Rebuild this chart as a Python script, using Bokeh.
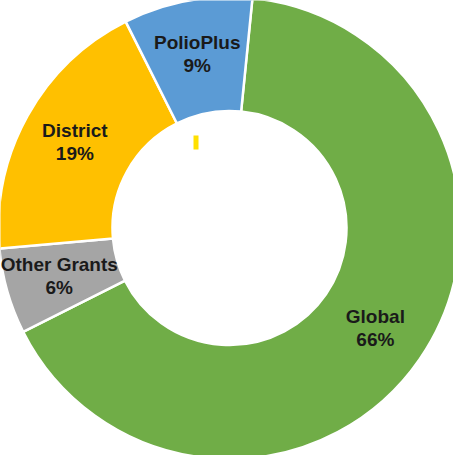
import numpy as np
from bokeh.plotting import figure
from bokeh.models import Range1d, ColumnDataSource
from bokeh.core.properties import value
from bokeh.embed import file_html
from bokeh.resources import INLINE

categories = ["Global", "Other Grants", "District", "PolioPlus"]
shares = [66, 6, 19, 9]
colors = ["#70AD47", "#A5A5A5", "#FFC000", "#5B9BD5"]
start_clockwise_deg = 5.7  # first slice starts just right of 12 o'clock

W, H = 453, 455
cx, cy = 229.0, 227.5
r_out, r_in = 231.0, 117.0

p = figure(width=W, height=H, output_backend="svg", toolbar_location=None,
           x_range=Range1d(0, W), y_range=Range1d(0, H), min_border=0)
p.axis.visible = False
p.grid.visible = False
p.outline_line_color = None
p.background_fill_color = "white"
p.border_fill_color = "white"

total = float(sum(shares))
cum = np.cumsum([0] + shares) / total * 360.0
theta0 = start_clockwise_deg + cum[:-1]  # clockwise from top
theta1 = start_clockwise_deg + cum[1:]
start = np.radians(90 - theta1)
end = np.radians(90 - theta0)

src = ColumnDataSource(dict(start=start, end=end, color=colors))
p.annular_wedge(x=cx, y=cy, inner_radius=r_in, outer_radius=r_out,
                start_angle="start", end_angle="end", fill_color="color",
                line_color="white", line_width=2.5, source=src)

mid = np.radians(start_clockwise_deg + (cum[:-1] + cum[1:]) / 2)
rm = 177.0
lx = cx + rm * np.sin(mid)
ly = cy + rm * np.cos(mid)
names = categories
pcts = [f"{s}%" for s in shares]
p.text(x=lx, y=ly + 11.5, text=names, text_align="center", text_baseline="middle",
       text_font=value("Liberation Sans"), text_font_style="bold",
       text_font_size="19px", text_color="#1A1A1A")
p.text(x=lx, y=ly - 11.5, text=pcts, text_align="center", text_baseline="middle",
       text_font=value("Liberation Sans"), text_font_style="bold",
       text_font_size="19px", text_color="#1A1A1A")

# small yellow marker inside the hole
p.rect(x=[195.5], y=[313], width=5, height=14,
       fill_color="#FFE000", line_color=None)

open("out.html", "w").write(file_html(p, INLINE))
